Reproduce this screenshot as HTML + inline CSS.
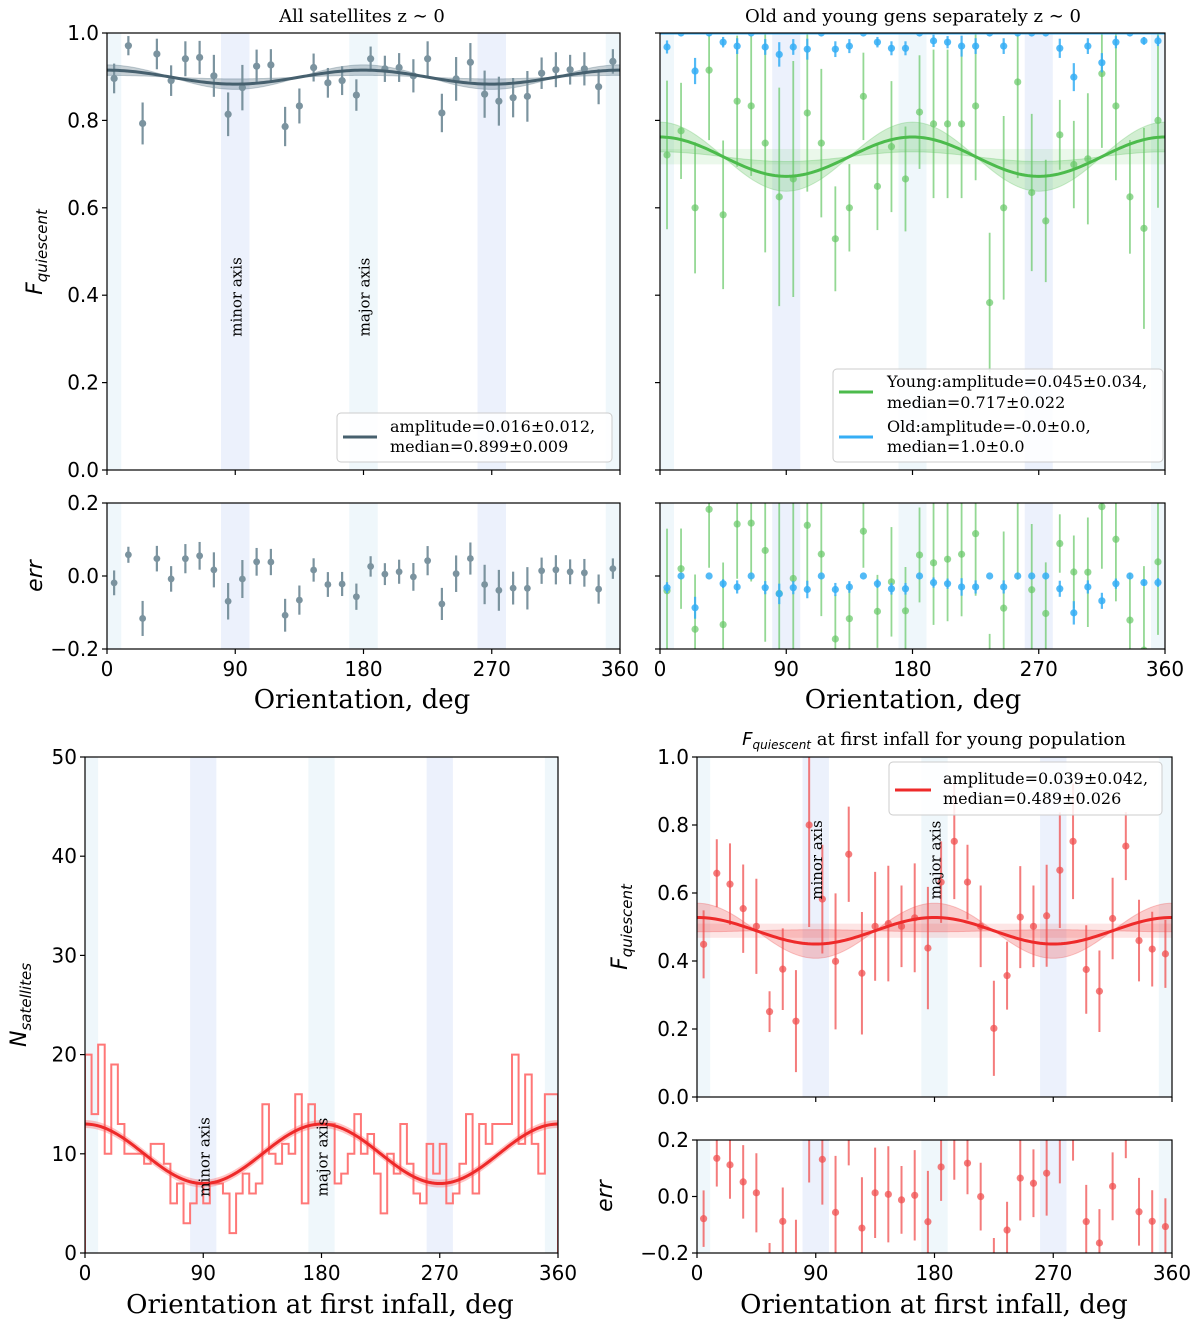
<!DOCTYPE html>
<html><head><meta charset="utf-8">
<style>
html,body{margin:0;padding:0;background:#fff;}
svg{display:block;}
text{font-family:"DejaVu Sans","Liberation Sans",sans-serif;}
.serif{font-family:"DejaVu Serif","Liberation Serif",serif;}
</style></head>
<body>
<svg id="fig" width="1200" height="1322" viewBox="0 0 1200 1322" xmlns="http://www.w3.org/2000/svg">
<defs>
<clipPath id="cA"><rect x="107" y="33" width="513" height="437"/></clipPath>
<clipPath id="cAr"><rect x="107" y="503" width="513" height="146"/></clipPath>
<clipPath id="cB"><rect x="660" y="33" width="505" height="437"/></clipPath>
<clipPath id="cBr"><rect x="660" y="503" width="505" height="146"/></clipPath>
<clipPath id="cC"><rect x="85" y="757" width="473" height="496"/></clipPath>
<clipPath id="cD"><rect x="697" y="757" width="475" height="340"/></clipPath>
<clipPath id="cDr"><rect x="697" y="1140" width="475" height="113"/></clipPath>
</defs>
</svg>
<script>
// ---------- data ----------
const angles = [5,15,25,35,45,55,65,75,85,95,105,115,125,135,145,155,165,175,185,195,205,215,225,235,245,255,265,275,285,295,305,315,325,335,345,355];
const allVals = [0.896,0.971,0.793,0.952,0.891,0.941,0.944,0.902,0.814,0.875,0.924,0.927,0.786,0.833,0.921,0.886,0.891,0.858,0.941,0.918,0.921,0.902,0.941,0.817,0.895,0.933,0.860,0.844,0.852,0.855,0.908,0.916,0.916,0.918,0.877,0.935];
const allErr  = [0.034,0.022,0.048,0.035,0.035,0.040,0.038,0.048,0.050,0.052,0.038,0.036,0.045,0.040,0.032,0.034,0.033,0.036,0.028,0.030,0.033,0.038,0.040,0.044,0.050,0.044,0.054,0.056,0.045,0.058,0.036,0.040,0.034,0.038,0.040,0.028];
const allFit = {median:0.899, amplitude:0.016, ampErr:0.012, medErr:0.009};
const youngVals = [0.721,0.776,0.600,0.915,0.584,0.844,0.833,0.748,0.625,0.666,0.817,0.748,0.529,0.600,0.855,0.649,0.740,0.666,0.819,0.792,0.792,0.792,0.833,0.383,0.600,0.888,0.635,0.570,0.767,0.699,0.712,0.907,0.833,0.625,0.553,0.800];
const youngErr  = [0.17,0.11,0.15,0.16,0.17,0.15,0.16,0.25,0.25,0.27,0.18,0.17,0.12,0.10,0.10,0.10,0.15,0.12,0.13,0.17,0.17,0.17,0.17,0.16,0.21,0.22,0.18,0.14,0.08,0.10,0.15,0.17,0.17,0.13,0.23,0.20];
const youngFit = {median:0.717, amplitude:0.045, ampErr:0.034, medErr:0.022};
const oldVals = [0.968,1,0.913,1,0.979,0.970,1,0.968,0.951,0.968,0.963,1,0.963,0.970,1,0.979,0.965,0.965,1,0.982,0.979,0.970,0.970,1,0.970,1,1,1,0.965,0.899,0.970,0.932,0.979,1,0.982,0.982];
const oldErr  = [0.015,0,0.03,0,0.012,0.018,0,0.018,0.028,0.018,0.024,0,0.018,0.016,0,0.012,0.016,0.016,0,0.014,0.014,0.024,0.018,0,0.018,0,0,0,0.022,0.032,0.018,0.022,0.014,0,0.009,0.012];
const oldFit = {median:1.0, amplitude:0.0, ampErr:0.0, medErr:0.0};
const histCounts = [20,14,21,10,19,13,10,10,10,9,11,11,9,5,7,3,5,7,5,7,7,6,2,6,8,6,7,15,10,9,11,10,16,5,15,13,
                    13,13,7,8,10,14,10,12,8,4,10,8,13,9,6,5,11,8,11,5,6,9,14,6,13,11,13,13,13,20,11,18,11,8,16,16];
const histFit = {median:10, amplitude:3};
const infallVals = [0.449,0.658,0.626,0.554,0.502,0.251,0.376,0.223,0.800,0.582,0.399,0.714,0.364,0.502,0.510,0.502,0.527,0.438,0.632,0.752,0.632,0.502,0.202,0.357,0.529,0.502,0.533,0.667,0.752,0.375,0.311,0.525,0.738,0.460,0.435,0.421];
const infallErr  = [0.10,0.10,0.12,0.13,0.14,0.06,0.12,0.15,0.30,0.16,0.20,0.14,0.18,0.16,0.17,0.12,0.16,0.18,0.12,0.17,0.11,0.12,0.14,0.10,0.15,0.12,0.15,0.17,0.17,0.13,0.12,0.12,0.10,0.12,0.11,0.10];
const infallFit = {median:0.489, amplitude:0.039, ampErr:0.042, medErr:0.026};
const xTicks = [0,90,180,270,360];
const fTicks = ["0.0","0.2","0.4","0.6","0.8","1.0"];
const errTicks = ["−0.2","0.0","0.2"];
const nTicks = ["0","10","20","30","40","50"];
const bands = [[-10,10,"#eff7fb"],[80,100,"#ecf1fc"],[170,190,"#eff7fb"],[260,280,"#ecf1fc"],[350,370,"#eff7fb"]];

// ---------- helpers ----------
const NS="http://www.w3.org/2000/svg";
const svg=document.getElementById('fig');
function mk(tag,attrs,parent){const e=document.createElementNS(NS,tag);for(const k in attrs)e.setAttribute(k,attrs[k]);(parent||svg).appendChild(e);return e;}
function X(p,v){return p.l+v/360*(p.r-p.l);}
function Y(p,v){return p.b-(v-p.y0)/(p.y1-p.y0)*(p.b-p.t);}
function model(f,a,amp){return f.median+amp*Math.cos(2*a*Math.PI/180);}

const A ={l:107,r:620,t:33,b:470,y0:0,y1:1,clip:'cA'};
const Ar={l:107,r:620,t:503,b:649,y0:-0.2,y1:0.2,clip:'cAr'};
const B ={l:660,r:1165,t:33,b:470,y0:0,y1:1,clip:'cB'};
const Br={l:660,r:1165,t:503,b:649,y0:-0.2,y1:0.2,clip:'cBr'};
const C ={l:85,r:558,t:757,b:1253,y0:0,y1:50,clip:'cC'};
const D ={l:697,r:1172,t:757,b:1097,y0:0,y1:1,clip:'cD'};
const Dr={l:697,r:1172,t:1140,b:1253,y0:-0.2,y1:0.2,clip:'cDr'};

function drawBands(p){
  const g=mk('g',{'clip-path':'url(#'+p.clip+')'});
  
  
  bands.forEach(b=>{
    const r=mk('rect',{x:X(p,b[0]),y:p.t,width:X(p,b[1])-X(p,b[0]),height:p.b-p.t,fill:b[2]},g);
    
    
  });
}
function frame(p,yTickVals,yLabels,showY,xLabels){
  const g=mk('g',{});
  
  
  mk('rect',{x:p.l,y:p.t,width:p.r-p.l,height:p.b-p.t,fill:'none',stroke:'#000','stroke-width':1.2},g);
  yTickVals.forEach((v,i)=>{
    const y=Y(p,v);
    mk('line',{x1:p.l-5,x2:p.l,y1:y,y2:y,stroke:'#000','stroke-width':1.2},g);
    if(showY){const t=mk('text',{x:p.l-8,y:y+7,'text-anchor':'end','font-size':20},g);t.textContent=yLabels[i];
      
      }
  });
  xTicks.forEach(v=>{
    const x=X(p,v);
    mk('line',{x1:x,x2:x,y1:p.b,y2:p.b+5,stroke:'#000','stroke-width':1.2},g);
    if(xLabels){const t=mk('text',{x:x,y:p.b+27,'text-anchor':'middle','font-size':20},g);t.textContent=v;
      
      }
  });
}
function fitBand(p,f,color,op,flatOp){
  const g=mk('g',{'clip-path':'url(#'+p.clip+')'});
  
  
  let up=[],dn=[];
  for(let a=0;a<=360;a+=2){
    const v1=model(f,a,f.amplitude+f.ampErr), v2=model(f,a,f.amplitude-f.ampErr);
    up.push(X(p,a)+','+Y(p,Math.max(v1,v2)));dn.unshift(X(p,a)+','+Y(p,Math.min(v1,v2)));
  }
  mk('polygon',{points:up.concat(dn).join(' '),fill:color,'fill-opacity':op,stroke:color,'stroke-opacity':0.3},g);
  if(f.medErr>0.015){
    mk('rect',{x:p.l,y:Y(p,f.median+f.medErr*0.8),width:p.r-p.l,height:Y(p,f.median-f.medErr*0.8)-Y(p,f.median+f.medErr*0.8),fill:color,'fill-opacity':flatOp},g);
  }
}
function fitLine(p,f,color,w,name){
  let pts=[];for(let a=0;a<=360;a+=2)pts.push(X(p,a)+','+Y(p,model(f,a,f.amplitude)));
  const l=mk('polyline',{points:pts.join(' '),fill:'none',stroke:color,'stroke-width':w,'clip-path':'url(#'+p.clip+')'});
  
  
}
function points(p,vals,errs,color,r,name,resid,f,op,ew){
  const g=mk('g',{'clip-path':'url(#'+p.clip+')'});
  
  
  vals.forEach((v,i)=>{
    const a=angles[i];
    const val=resid? v-model(f,a,f.amplitude) : v;
    const x=X(p,a);
    if(errs[i]>0){
      const e=mk('line',{x1:x,x2:x,y1:Y(p,val-errs[i]),y2:Y(p,val+errs[i]),stroke:color,'stroke-width':ew||2.2,'stroke-opacity':op},g);
      
      
    }
    const c=mk('circle',{cx:x,cy:Y(p,val),r:r,fill:color,'fill-opacity':op},g);
    
    
  });
}
function txt(x,y,s,size,attrs,name){
  const t=mk('text',Object.assign({x:x,y:y,'font-size':size},attrs||{}));
  t.textContent=s;
  
  
  return t;
}
function axisNote(p,a,yc,s){
  const x=X(p,a)+6;
  const t=mk('text',{x:0,y:0,'font-size':15,'text-anchor':'middle',class:'serif',transform:`translate(${x},${yc}) rotate(-90)`});
  t.textContent=s;
  
  
}
function fLabel(x,y,name){
  const t=mk('text',{x:0,y:0,'font-size':22,'font-style':'italic','text-anchor':'middle',transform:`translate(${x},${y}) rotate(-90)`});
  t.innerHTML='F<tspan font-size="15" dy="5">quiescent</tspan>';
  
  
}

// ---------- Panel A ----------
drawBands(A);drawBands(Ar);
axisNote(A,90,297,'minor axis');axisNote(A,180,297,'major axis');
fitBand(A,allFit,'#4a6878',0.3,0);
points(A,allVals,allErr,'#7b939f',3.6,'all-satellites-points',false,null,1);
fitLine(A,allFit,'#46606e',3,'all-satellites-fit');
points(Ar,allVals,allErr,'#7b939f',3.4,'all-satellites-residuals',true,allFit,1);
frame(A,[0,0.2,0.4,0.6,0.8,1],fTicks,true,false);
frame(Ar,[-0.2,0,0.2],errTicks,true,true);
txt(362,22,'All satellites z ∼ 0',18,{'text-anchor':'middle',class:'serif'},'title-all-satellites');
txt(362,708,'Orientation, deg',26,{'text-anchor':'middle',class:'serif'},'x-axis-title-a');
fLabel(42,252,'y-axis-title-a');
txt(0,0,'err',22,{'font-style':'italic','text-anchor':'middle',transform:'translate(42,576) rotate(-90)'},'y-axis-title-err-a');
(function(){const g=mk('g',{});
mk('rect',{x:337,y:413,width:275,height:49,rx:4,fill:'#fff','fill-opacity':0.85,stroke:'#ccc'},g);
mk('line',{x1:343,x2:377,y1:437,y2:437,stroke:'#46606e','stroke-width':3},g);
const t1=mk('text',{x:390,y:432,'font-size':16,class:'serif'},g);t1.textContent='amplitude=0.016±0.012,';
const t2=mk('text',{x:390,y:452,'font-size':16,class:'serif'},g);t2.textContent='median=0.899±0.009';})();

// ---------- Panel B ----------
drawBands(B);drawBands(Br);
fitBand(B,youngFit,'#5cc35c',0.28,0.12);
points(B,youngVals,youngErr,'#66c866',3.6,'young-points',false,null,0.7,1.8);
points(B,oldVals,oldErr,'#35aef5',3.6,'old-points',false,null,0.85);
fitLine(B,youngFit,'#4cbb4c',3,'young-fit');
fitLine(B,oldFit,'#35aef5',3,'old-fit');
points(Br,youngVals,youngErr,'#66c866',3.6,'young-residuals',true,youngFit,0.7,1.8);
points(Br,oldVals,oldErr,'#35aef5',3.6,'old-residuals',true,oldFit,0.85);
frame(B,[0,0.2,0.4,0.6,0.8,1],fTicks,false,false);
frame(Br,[-0.2,0,0.2],errTicks,false,true);
txt(913,22,'Old and young gens separately z ∼ 0',18,{'text-anchor':'middle',class:'serif'},'title-old-young');
txt(913,708,'Orientation, deg',26,{'text-anchor':'middle',class:'serif'},'x-axis-title-b');
(function(){const g=mk('g',{});
mk('rect',{x:833,y:369,width:330,height:93,rx:4,fill:'#fff','fill-opacity':0.85,stroke:'#ccc'},g);
mk('line',{x1:839,x2:873,y1:392,y2:392,stroke:'#4cbb4c','stroke-width':3},g);
mk('line',{x1:839,x2:873,y1:437,y2:437,stroke:'#35aef5','stroke-width':3},g);
[['Young:amplitude=0.045±0.034,',387],['median=0.717±0.022',408],['Old:amplitude=-0.0±0.0,',432],['median=1.0±0.0',452]].forEach(d=>{
const t=mk('text',{x:887,y:d[1],'font-size':16,class:'serif'},g);t.textContent=d[0];});})();

// ---------- Panel C ----------
drawBands(C);
(function(){
  const g=mk('g',{'clip-path':'url(#cC)'});
  
  
  const w=360/histCounts.length;
  let d='M'+X(C,0)+','+Y(C,0);
  histCounts.forEach((n,i)=>{d+=' L'+X(C,i*w)+','+Y(C,n)+' L'+X(C,(i+1)*w)+','+Y(C,n);});
  d+=' L'+X(C,360)+','+Y(C,0);
  const pth=mk('path',{d:d,fill:'none',stroke:'#f77','stroke-width':2},g);
  
  
  let up=[],dn=[];
  for(let a=0;a<=360;a+=2){up.push(X(C,a)+','+Y(C,model(histFit,a,histFit.amplitude)+0.4));dn.unshift(X(C,a)+','+Y(C,model(histFit,a,histFit.amplitude)-0.4));}
  mk('polygon',{points:up.concat(dn).join(' '),fill:'#f55','fill-opacity':0.35},g);
})();
fitLine(C,histFit,'#ee2a2a',3,'histogram-fit');
axisNote(C,90,1157,'minor axis');axisNote(C,180,1157,'major axis');
frame(C,[0,10,20,30,40,50],nTicks,true,true);
txt(320,1313,'Orientation at first infall, deg',26,{'text-anchor':'middle',class:'serif'},'x-axis-title-c');
(function(){const t=mk('text',{x:0,y:0,'font-size':22,'font-style':'italic','text-anchor':'middle',transform:'translate(26,1005) rotate(-90)'});
t.innerHTML='N<tspan font-size="15" dy="5">satellites</tspan>';

})();

// ---------- Panel D ----------
drawBands(D);drawBands(Dr);
fitBand(D,infallFit,'#f04a4a',0.28,0.14);
points(D,infallVals,infallErr,'#f05050',3.6,'infall-points',false,null,0.75,2);
fitLine(D,infallFit,'#ee2a2a',3,'infall-fit');
axisNote(D,90,860,'minor axis');axisNote(D,180,860,'major axis');
points(Dr,infallVals,infallErr,'#f05050',3.6,'infall-residuals',true,infallFit,0.75,2);
frame(D,[0,0.2,0.4,0.6,0.8,1],fTicks,true,false);
frame(Dr,[-0.2,0,0.2],errTicks,true,true);
(function(){const t=mk('text',{x:934,y:745,'font-size':18,'text-anchor':'middle',class:'serif'});
t.innerHTML='<tspan font-style="italic" font-family="DejaVu Sans, sans-serif">F</tspan><tspan font-style="italic" font-family="DejaVu Sans, sans-serif" font-size="12" dy="4">quiescent</tspan><tspan dy="-4"> at first infall for young population</tspan>';

})();
txt(934,1313,'Orientation at first infall, deg',26,{'text-anchor':'middle',class:'serif'},'x-axis-title-d');
fLabel(627,927,'y-axis-title-d');
txt(0,0,'err',22,{'font-style':'italic','text-anchor':'middle',transform:'translate(612,1196) rotate(-90)'},'y-axis-title-err-d');
(function(){const g=mk('g',{});
mk('rect',{x:889,y:762,width:273,height:53,rx:4,fill:'#fff','fill-opacity':0.85,stroke:'#ccc'},g);
mk('line',{x1:895,x2:931,y1:790,y2:790,stroke:'#ee2a2a','stroke-width':3},g);
const t1=mk('text',{x:943,y:784,'font-size':16,class:'serif'},g);t1.textContent='amplitude=0.039±0.042,';
const t2=mk('text',{x:943,y:804,'font-size':16,class:'serif'},g);t2.textContent='median=0.489±0.026';})();
</script>
</body></html>
